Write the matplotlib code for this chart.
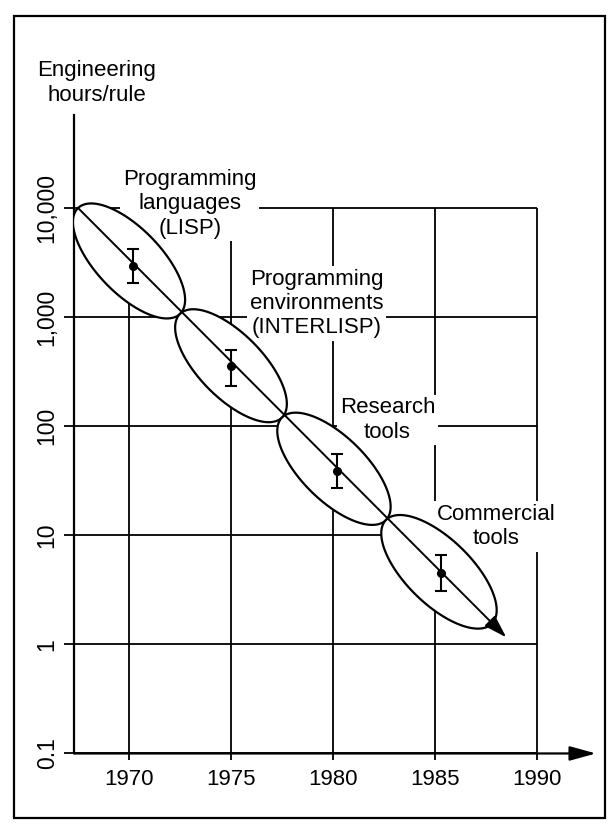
import numpy as np
import matplotlib.pyplot as plt
from matplotlib.patches import Rectangle
from matplotlib.ticker import NullLocator

plt.rcParams['font.family'] = ['Liberation Sans', 'DejaVu Sans']

# measured points with error bars
years = [1970.2, 1975.0, 1980.2, 1985.3]
hours = [2950, 355, 39, 4.5]
hours_lo = [2050, 233, 27, 3.1]
hours_hi = [4200, 500, 56, 6.6]

# ellipse boundaries for each era (along the trend line)
era_year = [1967.5, 1972.5, 1977.5, 1982.6, 1987.8]
era_hours = [10000, 1070, 120, 13.8, 1.55]
era_names = ["Programming\nlanguages\n(LISP)",
             "Programming\nenvironments\n(INTERLISP)",
             "Research\ntools",
             "Commercial\ntools"]
label_year = [1972.98, 1979.19, 1982.67, 1987.99]
label_hours = [10900, 1340, 114, 12.1]

trend_year = [1967.5, 1988.5]
trend_hours = [10000, 1.16]

x_ticks = [1970, 1975, 1980, 1985, 1990]
y_ticks = [0.1, 1, 10, 100, 1000, 10000]
y_labels = ["0.1", "1", "10", "100", "1,000", "10,000"]

fig = plt.figure(figsize=(6.12, 8.24), dpi=100)
ax = fig.add_axes([0.1209, 0.0856, 0.8529, 0.7749])
ax.set_yscale('log')
ax.set_xlim(1967.3, 1992.9)
ax.set_ylim(0.1, 10 ** 4.853)

for s in ['top', 'right', 'bottom']:
    ax.spines[s].set_visible(False)
ax.spines['left'].set_linewidth(1.6)

ax.set_xticks(x_ticks)
ax.set_xticklabels([str(y) for y in x_ticks], fontsize=16)
ax.set_yticks(y_ticks)
ax.set_yticklabels(y_labels, fontsize=16.5, rotation=90, va='center')
ax.yaxis.set_minor_locator(NullLocator())
ax.tick_params(axis='y', length=7, width=1.3, pad=4)
ax.tick_params(axis='x', length=5, width=1.3, pad=6)

# x axis with arrow
ax.annotate('', xy=(1992.9, 0.1), xytext=(1967.3, 0.1),
            arrowprops=dict(arrowstyle='-|>,head_length=0.8,head_width=0.22', lw=1.6,
                            color='black', shrinkA=0, shrinkB=0, mutation_scale=20),
            annotation_clip=False, zorder=6)

# grid
ax.hlines(y_ticks, 1967.3, 1990, color='black', lw=1.3, zorder=1)
ax.vlines(x_ticks, 0.1, 10000, color='black', lw=1.3, zorder=1)

# era ellipses, drawn in display space so they look like real ellipses
inv = ax.transData.inverted()
for i in range(len(era_names)):
    p0 = ax.transData.transform((era_year[i], era_hours[i]))
    p1 = ax.transData.transform((era_year[i + 1], era_hours[i + 1]))
    c = (p0 + p1) / 2
    d = p1 - p0
    a = np.hypot(*d) / 2
    u = d / (2 * a)
    v = np.array([-u[1], u[0]])
    b = a * 0.44
    t = np.linspace(0, 2 * np.pi, 300)
    pts = c + np.outer(a * np.cos(t), u) + np.outer(b * np.sin(t), v)
    dat = inv.transform(pts)
    ax.fill(dat[:, 0], dat[:, 1], facecolor='white', edgecolor='black', lw=1.6, zorder=3)

# trend arrow
ax.annotate('', xy=(trend_year[1], trend_hours[1]), xytext=(trend_year[0], trend_hours[0]),
            arrowprops=dict(arrowstyle='-|>,head_length=0.7,head_width=0.22', lw=1.4,
                            color='black', shrinkA=0, shrinkB=0, mutation_scale=20),
            zorder=4)

ax.errorbar(years, hours,
            yerr=[np.array(hours) - np.array(hours_lo), np.array(hours_hi) - np.array(hours)],
            fmt='o', color='black', ms=5.5, capsize=4, elinewidth=1.5, capthick=1.5, zorder=5)

for name, lx, ly in zip(era_names, label_year, label_hours):
    ax.text(lx, ly, name, ha='center', va='center', fontsize=16,
            bbox=dict(fc='white', ec='none', pad=2), zorder=2)

fig.text(97 / 612, 1 - 83 / 824, "Engineering\nhours/rule", ha='center', va='center',
         fontsize=16)

fig.patches.append(Rectangle((14 / 612, 1 - 818 / 824), 591 / 612, 802 / 824, fill=False,
                             lw=1.6, edgecolor='black', transform=fig.transFigure))

fig.savefig('out.png', dpi=100)
